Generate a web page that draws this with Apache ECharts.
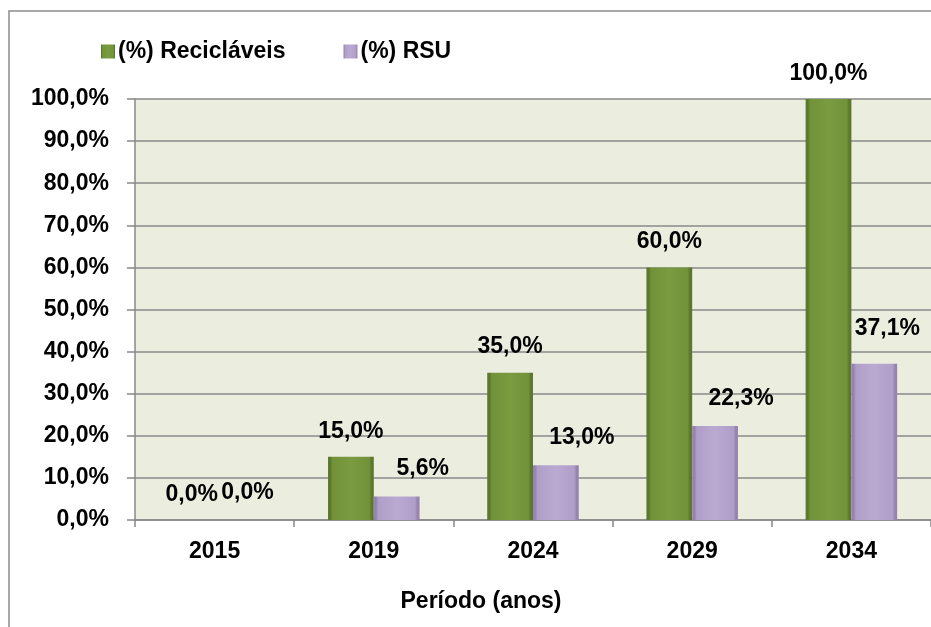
<!DOCTYPE html>
<html><head><meta charset="utf-8">
<script src="https://cdn.jsdelivr.net/npm/echarts@6/dist/echarts.min.js"></script>
<style>html,body{margin:0;padding:0;background:#fff}#c{width:931px;height:627px}</style>
</head><body><div id="c"></div>
<script>
const categories = ['2015','2019','2024','2029','2034'];
const reciclaveis = [0.0, 15.0, 35.0, 60.0, 100.0];
const rsu = [0.0, 5.6, 13.0, 22.3, 37.1];
const seriesNames = ['(%) Recicláveis', '(%) RSU'];
const FONT = "'Liberation Sans Narrow', 'Liberation Sans', Arial, sans-serif";
const fmt = v => v.toFixed(1).replace('.', ',') + '%';

const greenGrad = new echarts.graphic.LinearGradient(0,0,1,0,[
  {offset:0,color:'#5b782c'},{offset:0.05,color:'#5b782c'},{offset:0.1,color:'#72923a'},{offset:0.5,color:'#7b9b41'},{offset:0.9,color:'#72923a'},{offset:0.95,color:'#5b782c'},{offset:1,color:'#5b782c'}]);
const purpleGrad = new echarts.graphic.LinearGradient(0,0,1,0,[
  {offset:0,color:'#9684b0'},{offset:0.05,color:'#9684b0'},{offset:0.1,color:'#af9ec8'},{offset:0.5,color:'#baa9d1'},{offset:0.9,color:'#af9ec8'},{offset:0.95,color:'#9684b0'},{offset:1,color:'#9684b0'}]);

const labelBase = {fontFamily:FONT, fontWeight:'bold', fontSize:23, color:'#000'};
const rsuLabelOffsets = {0:[10,0], 4:[13,-8]};
const rsuData = rsu.map((v,i) => rsuLabelOffsets[i] ? {value:v, label:{offset:rsuLabelOffsets[i]}} : v);

const chart = echarts.init(document.getElementById('c'));
chart.setOption({
  animation:false,
  graphic:[{type:'rect', shape:{x:9,y:11,width:960,height:660}, style:{fill:'none',stroke:'#8c8c8c',lineWidth:1.5}, silent:true}],
  legend:{
    data:seriesNames, left:96, top:35, itemWidth:14, itemHeight:14, itemGap:58,
    icon:'rect',
    textStyle:Object.assign({}, labelBase, {padding:[0,0,0,-2]})
  },
  grid:{left:135, width:800, top:99, bottom:107, backgroundColor:'#ebeedf', show:true, borderWidth:0},
  xAxis:{
    type:'category', data:categories,
    axisLine:{lineStyle:{color:'#888',width:1.5}},
    axisTick:{show:true, length:7, lineStyle:{color:'#888',width:1.5}},
    axisLabel:Object.assign({}, labelBase, {margin:20}),
    name:'Período (anos)', nameLocation:'middle', nameGap:70,
    nameTextStyle:Object.assign({}, labelBase, {padding:[0,104,0,0]})
  },
  yAxis:{
    type:'value', min:0, max:100, interval:10,
    axisLine:{show:true, lineStyle:{color:'#888',width:1.5}},
    axisTick:{show:true, length:8, lineStyle:{color:'#888',width:1.5}},
    splitLine:{lineStyle:{color:'#8a8a8a',width:1.5}},
    axisLabel:Object.assign({}, labelBase, {margin:26, formatter:v=>fmt(v)})
  },
  series:[
    {name:seriesNames[0], type:'bar', data:reciclaveis, barGap:'0%', barCategoryGap:'42.5%',
     itemStyle:{color:greenGrad},
     label:Object.assign({show:true, position:'top', distance:14, formatter:p=>fmt(p.value)}, labelBase)},
    {name:seriesNames[1], type:'bar', data:rsuData,
     itemStyle:{color:purpleGrad},
     label:Object.assign({show:true, position:'top', distance:16, offset:[26,0], formatter:p=>fmt(p.value)}, labelBase)}
  ]
});
</script></body></html>
